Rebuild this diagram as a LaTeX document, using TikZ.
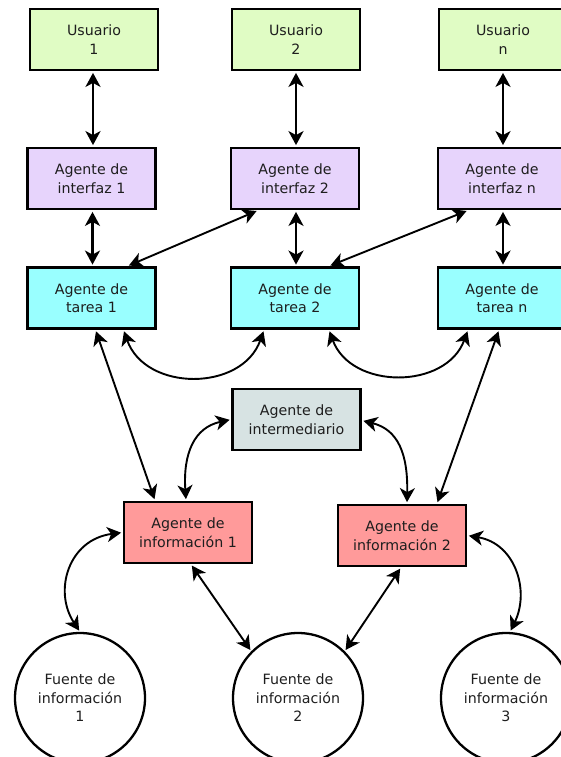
\documentclass[tikz,border=0pt]{standalone}
\usepackage{fontspec}
\setmainfont{DejaVu Sans}
\usetikzlibrary{arrows.meta,calc}

\definecolor{usrfill}{HTML}{E0FCC4}
\definecolor{intfill}{HTML}{E7D4FC}
\definecolor{tarfill}{HTML}{99FFFF}
\definecolor{medfill}{HTML}{D7E3E3}
\definecolor{inffill}{HTML}{FF9A9A}
\definecolor{txt}{HTML}{1E1E1E}

\tikzset{
  box/.style={draw=black, line width=2.8pt, minimum width=128pt, minimum height=61pt,
    inner sep=0pt, align=center, text=txt,
    font=\fontsize{14.2}{18.5}\selectfont},
  usr/.style={box, fill=usrfill},
  intf/.style={box, fill=intfill},
  tar/.style={box, fill=tarfill},
  med/.style={box, fill=medfill},
  inf/.style={box, fill=inffill},
  src/.style={draw=black, line width=2.3pt, circle, minimum size=130pt, inner sep=0pt,
    align=center, text=txt, font=\fontsize{14.2}{18.5}\selectfont},
  head/.tip={Stealth[length=14pt, width=15pt, inset=4pt]},
  link/.style={line width=2.6pt, head-head, shorten <=1.5pt, shorten >=1.5pt},
  thin link/.style={line width=1.9pt, head-head, shorten <=1.5pt, shorten >=1.5pt}
}

\begin{document}
\begin{tikzpicture}[x=1pt, y=-1pt]
\useasboundingbox (0,0) rectangle (561,757);
\clip (0,0) rectangle (561,757);

% users
\node[usr] (u1) at (94,39.5) {Usuario\\1};
\node[usr] (u2) at (296,39.5) {Usuario\\2};
\node[usr] (un) at (503,39.5) {Usuario\\n};

% interface agents
\node[intf] (i1) at (91.5,178.5) {Agente de\\interfaz 1};
\node[intf] (i2) at (295,178.5) {Agente de\\interfaz 2};
\node[intf] (in) at (502,178.5) {Agente de\\interfaz n};

% task agents
\node[tar] (t1) at (91.5,298) {Agente de\\tarea 1};
\node[tar] (t2) at (295,298) {Agente de\\tarea 2};
\node[tar] (tn) at (502,298) {Agente de\\tarea n};

% broker
\node[med] (m) at (296.5,419.5) {Agente de\\intermediario};

% information agents
\node[inf] (f1) at (188,532.5) {Agente de\\información 1};
\node[inf] (f2) at (402,535.5) {Agente de\\información 2};

% information sources
\node[src] (s1) at (80,698) {Fuente de\\información\\1};
\node[src] (s2) at (298,698) {Fuente de\\información\\2};
\node[src] (s3) at (506,698) {Fuente de\\información\\3};

% user <-> interface
\draw[link] ($(u1.south)+(-1,0)$) -- ($(u1.south |- i1.north)+(-1,0)$);
\draw[link] (u2.south) -- (u2.south |- i2.north);
\draw[link] (un.south) -- (un.south |- in.north);

% interface <-> task
\draw[link] ($(i1.south)+(1,0)$) -- ($(i1.south |- t1.north)+(1,0)$);
\draw[link] ($(i2.south)+(1,0)$) -- ($(i2.south |- t2.north)+(1,0)$);
\draw[link] ($(in.south)+(1,0)$) -- ($(in.south |- tn.north)+(1,0)$);

% cross links task <-> next interface
\draw[thin link] ($(t1.north)+(36,0)$) -- ($(i2.south)+(-37,0)$);
\draw[thin link] ($(t2.north)+(34,0)$) -- ($(in.south)+(-34,0)$);

% task <-> task
\draw[thin link] ($(t1.south)+(32,0)$) .. controls +(22,62) and +(-22,62) .. ($(t2.south)+(-31,0)$);
\draw[thin link] ($(t2.south)+(34,0)$) .. controls +(22,60) and +(-22,60) .. ($(tn.south)+(-34,0)$);

% task <-> information agent
\draw[thin link] ($(t1.south)+(4,0)$) -- ($(f1.north)+(-33,0)$);
\draw[thin link] ($(tn.south)+(-3,0)$) -- ($(f2.north)+(35,0)$);

% broker <-> information agents
\draw[thin link] (m.west) .. controls +(-37,8) and +(-3,-47) .. ($(f1.north)+(-2,0)$);
\draw[thin link] ($(m.east)+(0,1)$) .. controls +(36,9) and +(1,-50) .. ($(f2.north)+(5,0)$);

% information agents <-> sources
\draw[thin link] (f1.west) .. controls +(-54,7) and +(-27,-41) .. (s1.north);
\draw[thin link] ($(f1.south)+(3,0)$) -- (s2.north west);
\draw[thin link] ($(f2.south)+(-1,0)$) -- (s2.north east);
\draw[thin link] (f2.east) .. controls +(48,8) and +(20,-41) .. ($(s3.north)+(4,0)$);
\end{tikzpicture}
\end{document}
